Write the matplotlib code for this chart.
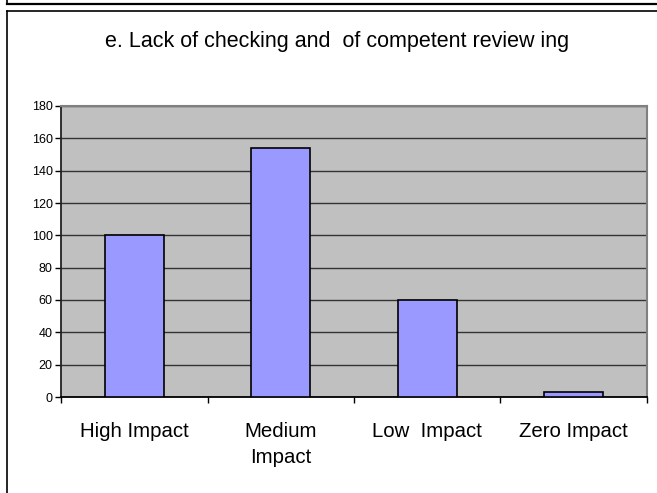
import matplotlib
matplotlib.use("Agg")
import matplotlib.pyplot as plt
from matplotlib.lines import Line2D

# chart data
categories = ["High Impact", "Medium\nImpact", "Low  Impact", "Zero Impact"]
counts = [100, 154, 60, 3]
y_ticks = [0, 20, 40, 60, 80, 100, 120, 140, 160, 180]
title = "e. Lack of checking and  of competent review ing"

plt.rcParams['font.family'] = ['Liberation Sans', 'DejaVu Sans']

W, H = 657, 493
fig = plt.figure(figsize=(W / 100, H / 100), dpi=100)
fig.patch.set_facecolor("white")

# frames around the chart (previous box bottom + this box)
fig.add_artist(Line2D([6.5 / W, 1], [1 - 4 / H, 1 - 4 / H], color="black", lw=1.6))
fig.add_artist(Line2D([6.5 / W, 6.5 / W], [1, 1 - 4 / H], color="black", lw=1.2))
fig.add_artist(Line2D([6.5 / W, 6.5 / W], [0, 1 - 10.5 / H], color="black", lw=1.2))
fig.add_artist(Line2D([6.5 / W, 1], [1 - 10.5 / H, 1 - 10.5 / H], color="black", lw=1.2))

ax = fig.add_axes([61 / W, 1 - 397 / H, (647 - 61) / W, (397 - 106) / H])
ax.set_facecolor("#C0C0C0")

x = list(range(len(categories)))
ax.bar(x, counts, width=0.40, color="#9999FF", edgecolor="black", linewidth=1.2, zorder=3)

ax.set_xlim(-0.5, len(categories) - 0.5)
ax.set_ylim(0, 180)
ax.set_yticks(y_ticks)
ax.yaxis.grid(True, color="#333333", linewidth=1.0, zorder=1)
ax.set_axisbelow(True)

ax.set_xticks(x)
ax.set_xticklabels(categories, fontsize=14.7, linespacing=1.45)
ax.set_xticks([i - 0.5 for i in range(len(categories) + 1)], minor=True)
ax.tick_params(axis="x", which="major", length=0, pad=18)
ax.tick_params(axis="x", which="minor", length=4, width=1, color="black", direction="out")
ax.tick_params(axis="y", labelsize=9, length=4, width=1, direction="out", pad=2)

for side in ("top", "right"):
    ax.spines[side].set_color("#808080")
    ax.spines[side].set_linewidth(1.5)
ax.spines["left"].set_color("#222222")
ax.spines["left"].set_linewidth(1.3)
ax.spines["bottom"].set_color("black")
ax.spines["bottom"].set_linewidth(1.3)

fig.text(337 / W, 1 - 42 / H, title, ha="center", va="center", fontsize=15.5)

fig.savefig("out.png", dpi=100)
